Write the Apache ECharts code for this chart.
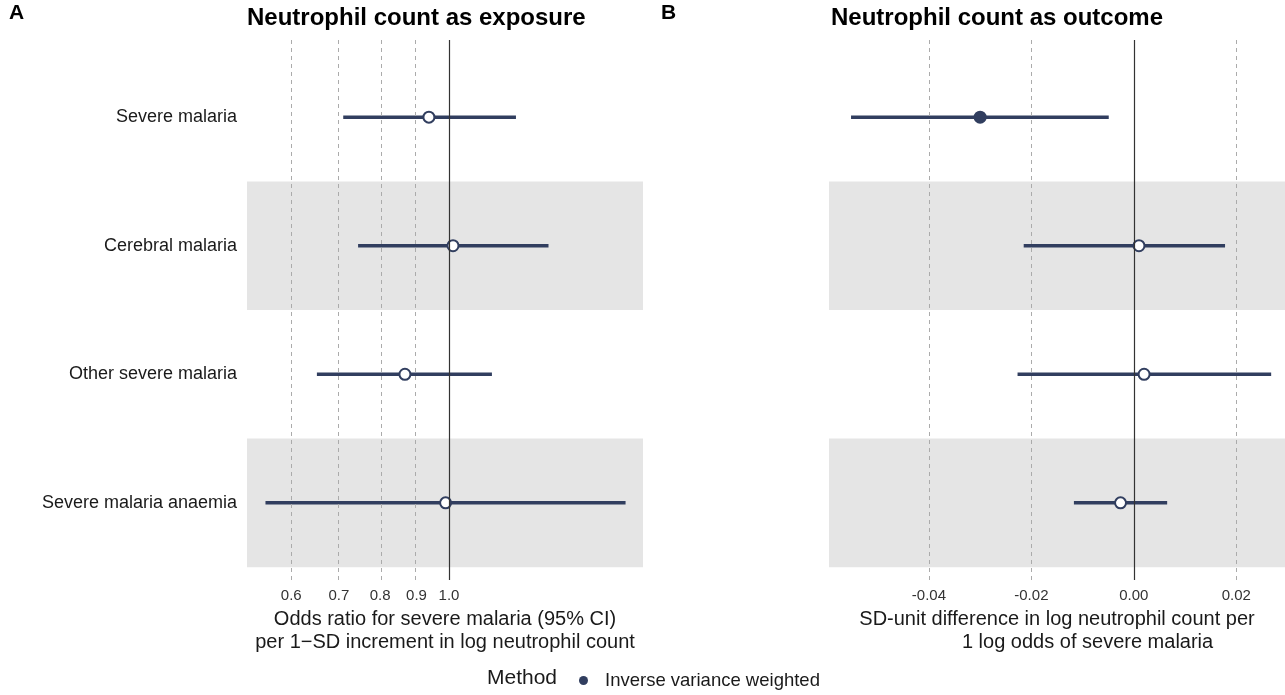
<!DOCTYPE html>
<html lang="en">
<head>
    <meta charset="UTF-8">
    <title>Neutrophil count forest plots</title>
    <script src="https://cdn.jsdelivr.net/npm/echarts@6.0.0/dist/echarts.min.js"></script>
    <style>
        body { margin: 0; background: #fff; }
        #chart { width: 1285px; height: 695px; }
    </style>
</head>
<body>
    <div id="chart"></div>
    <script>
        // data
        const outcomes = ['Severe malaria', 'Cerebral malaria', 'Other severe malaria', 'Severe malaria anaemia'];
        const rows = [1, 2, 3, 4];

        // panel A: odds ratio (95% CI)
        const exposureOR = [0.937, 1.013, 0.867, 0.989];
        const exposureLo = [0.71, 0.745, 0.652, 0.552];
        const exposureHi = [1.242, 1.38, 1.149, 1.771];
        const orTicks = [0.6, 0.7, 0.8, 0.9, 1.0];

        // panel B: SD-unit difference (95% CI)
        const outcomeBeta = [-0.0300, 0.001, 0.002, -0.0026];
        const outcomeLo = [-0.0552, -0.0215, -0.0227, -0.0117];
        const outcomeHi = [-0.0049, 0.0178, 0.0268, 0.0065];
        const outcomeFilled = [true, false, false, false];
        const betaTicks = [-0.04, -0.02, 0, 0.02];

        const navy = '#313e5f';
        const font = '"Liberation Sans", Arial, sans-serif';

        const chart = echarts.init(document.getElementById('chart'));

        function errorBars(xIdx, lo, hi, tf) {
            return {
                type: 'custom',
                xAxisIndex: xIdx, yAxisIndex: xIdx,
                z: 3,
                silent: true,
                data: rows.map((r, i) => [tf(lo[i]), tf(hi[i]), r]),
                renderItem: (params, api) => {
                    const a = api.coord([api.value(0), api.value(2)]);
                    const b = api.coord([api.value(1), api.value(2)]);
                    return {
                        type: 'line',
                        shape: { x1: a[0], y1: a[1], x2: b[0], y2: b[1] },
                        style: { stroke: navy, lineWidth: 3.5 }
                    };
                }
            };
        }

        // grey bands + dashed reference lines
        function background(xIdx, dashed, zero) {
            return {
                type: 'scatter',
                xAxisIndex: xIdx, yAxisIndex: xIdx,
                data: [],
                z: 1,
                silent: true,
                markArea: {
                    silent: true,
                    itemStyle: { color: '#e5e5e5' },
                    data: [
                        [{ yAxis: 1.5 }, { yAxis: 2.5 }],
                        [{ yAxis: 3.5 }, { yAxis: 4.5 }]
                    ]
                },
                markLine: {
                    silent: true,
                    symbol: 'none',
                    label: { show: false },
                    animation: false,
                    data: dashed.map(v => ({ xAxis: v, lineStyle: { type: [4, 4], color: '#ababab', width: 1 } }))
                        .concat([{ xAxis: zero, lineStyle: { type: 'solid', color: '#333', width: 1.2 } }])
                }
            };
        }

        function points(xIdx, vals, tf, filled) {
            return {
                type: 'scatter',
                name: 'Inverse variance weighted',
                xAxisIndex: xIdx, yAxisIndex: xIdx,
                z: 4,
                symbol: 'circle',
                symbolSize: 11,
                itemStyle: { color: '#fff', borderColor: navy, borderWidth: 2, opacity: 1 },
                data: rows.map((r, i) => ({
                    value: [tf(vals[i]), r],
                    itemStyle: filled && filled[i] ? { color: navy } : undefined
                }))
            };
        }

        const ln = v => Math.log(v);
        const id = v => v;

        const yBase = {
            type: 'value', min: 0.4, max: 4.6, inverse: true,
            splitLine: { show: false }, axisLine: { show: false }, axisTick: { show: false }
        };
        const xBase = {
            type: 'value',
            splitLine: { show: false }, axisLine: { show: false }, axisTick: { show: false },
            nameLocation: 'middle',
            nameGap: 25,
            nameTextStyle: { fontSize: 20, color: '#1a1a1a', lineHeight: 23, fontFamily: font }
        };

        chart.setOption({
            animation: false,
            textStyle: { fontFamily: font },
            title: [
                { text: 'Neutrophil count as exposure', left: 242, top: 1,
                  textStyle: { fontSize: 24, fontWeight: 'bold', color: '#000', fontFamily: font } },
                { text: 'Neutrophil count as outcome', left: 826, top: 1,
                  textStyle: { fontSize: 24, fontWeight: 'bold', color: '#000', fontFamily: font } }
            ],
            grid: [
                { left: 247, right: 642, top: 40, bottom: 115 },
                { left: 829, right: 0, top: 40, bottom: 115 }
            ],
            xAxis: [
                Object.assign({}, xBase, {
                    gridIndex: 0,
                    min: -0.654, max: 0.628,
                    name: 'Odds ratio for severe malaria (95% CI)\nper 1\u2212SD increment in log neutrophil count',
                    axisLabel: {
                        customValues: orTicks.map(ln),
                        formatter: v => Math.exp(v).toFixed(1),
                        fontSize: 15, color: '#333', margin: 8
                    }
                }),
                Object.assign({}, xBase, {
                    gridIndex: 1,
                    min: -0.0595, max: 0.0295,
                    name: 'SD-unit difference in log neutrophil count per\n           1 log odds of severe malaria',
                    axisLabel: {
                        customValues: betaTicks,
                        formatter: v => v.toFixed(2),
                        fontSize: 15, color: '#333', margin: 8
                    }
                })
            ],
            yAxis: [
                Object.assign({}, yBase, {
                    gridIndex: 0,
                    axisLabel: {
                        customValues: rows,
                        formatter: v => outcomes[Math.round(v) - 1] || '',
                        fontSize: 18, color: '#1a1a1a', margin: 10
                    }
                }),
                Object.assign({}, yBase, { gridIndex: 1, axisLabel: { show: false } })
            ],
            legend: {
                left: 574, top: 666,
                icon: 'circle',
                itemWidth: 9, itemHeight: 9,
                selectedMode: false,
                textStyle: { fontSize: 18.5, color: '#1a1a1a', padding: [0, 0, 0, 12] },
                data: [{ name: 'Inverse variance weighted', itemStyle: { color: navy, borderWidth: 0 } }]
            },
            graphic: [
                { type: 'text', left: 9, top: 3, style: { text: 'A', fill: '#000', font: 'bold 21px ' + font } },
                { type: 'text', left: 661, top: 3, style: { text: 'B', fill: '#000', font: 'bold 21px ' + font } },
                { type: 'text', left: 487, top: 668, style: { text: 'Method', fill: '#1a1a1a', font: '21px ' + font } }
            ],
            series: [
                background(0, orTicks.filter(t => t !== 1).map(ln), 0),
                background(1, betaTicks.filter(t => t !== 0), 0),
                errorBars(0, exposureLo, exposureHi, ln),
                errorBars(1, outcomeLo, outcomeHi, id),
                points(0, exposureOR, ln, null),
                points(1, outcomeBeta, id, outcomeFilled)
            ]
        });
    </script>
</body>
</html>
